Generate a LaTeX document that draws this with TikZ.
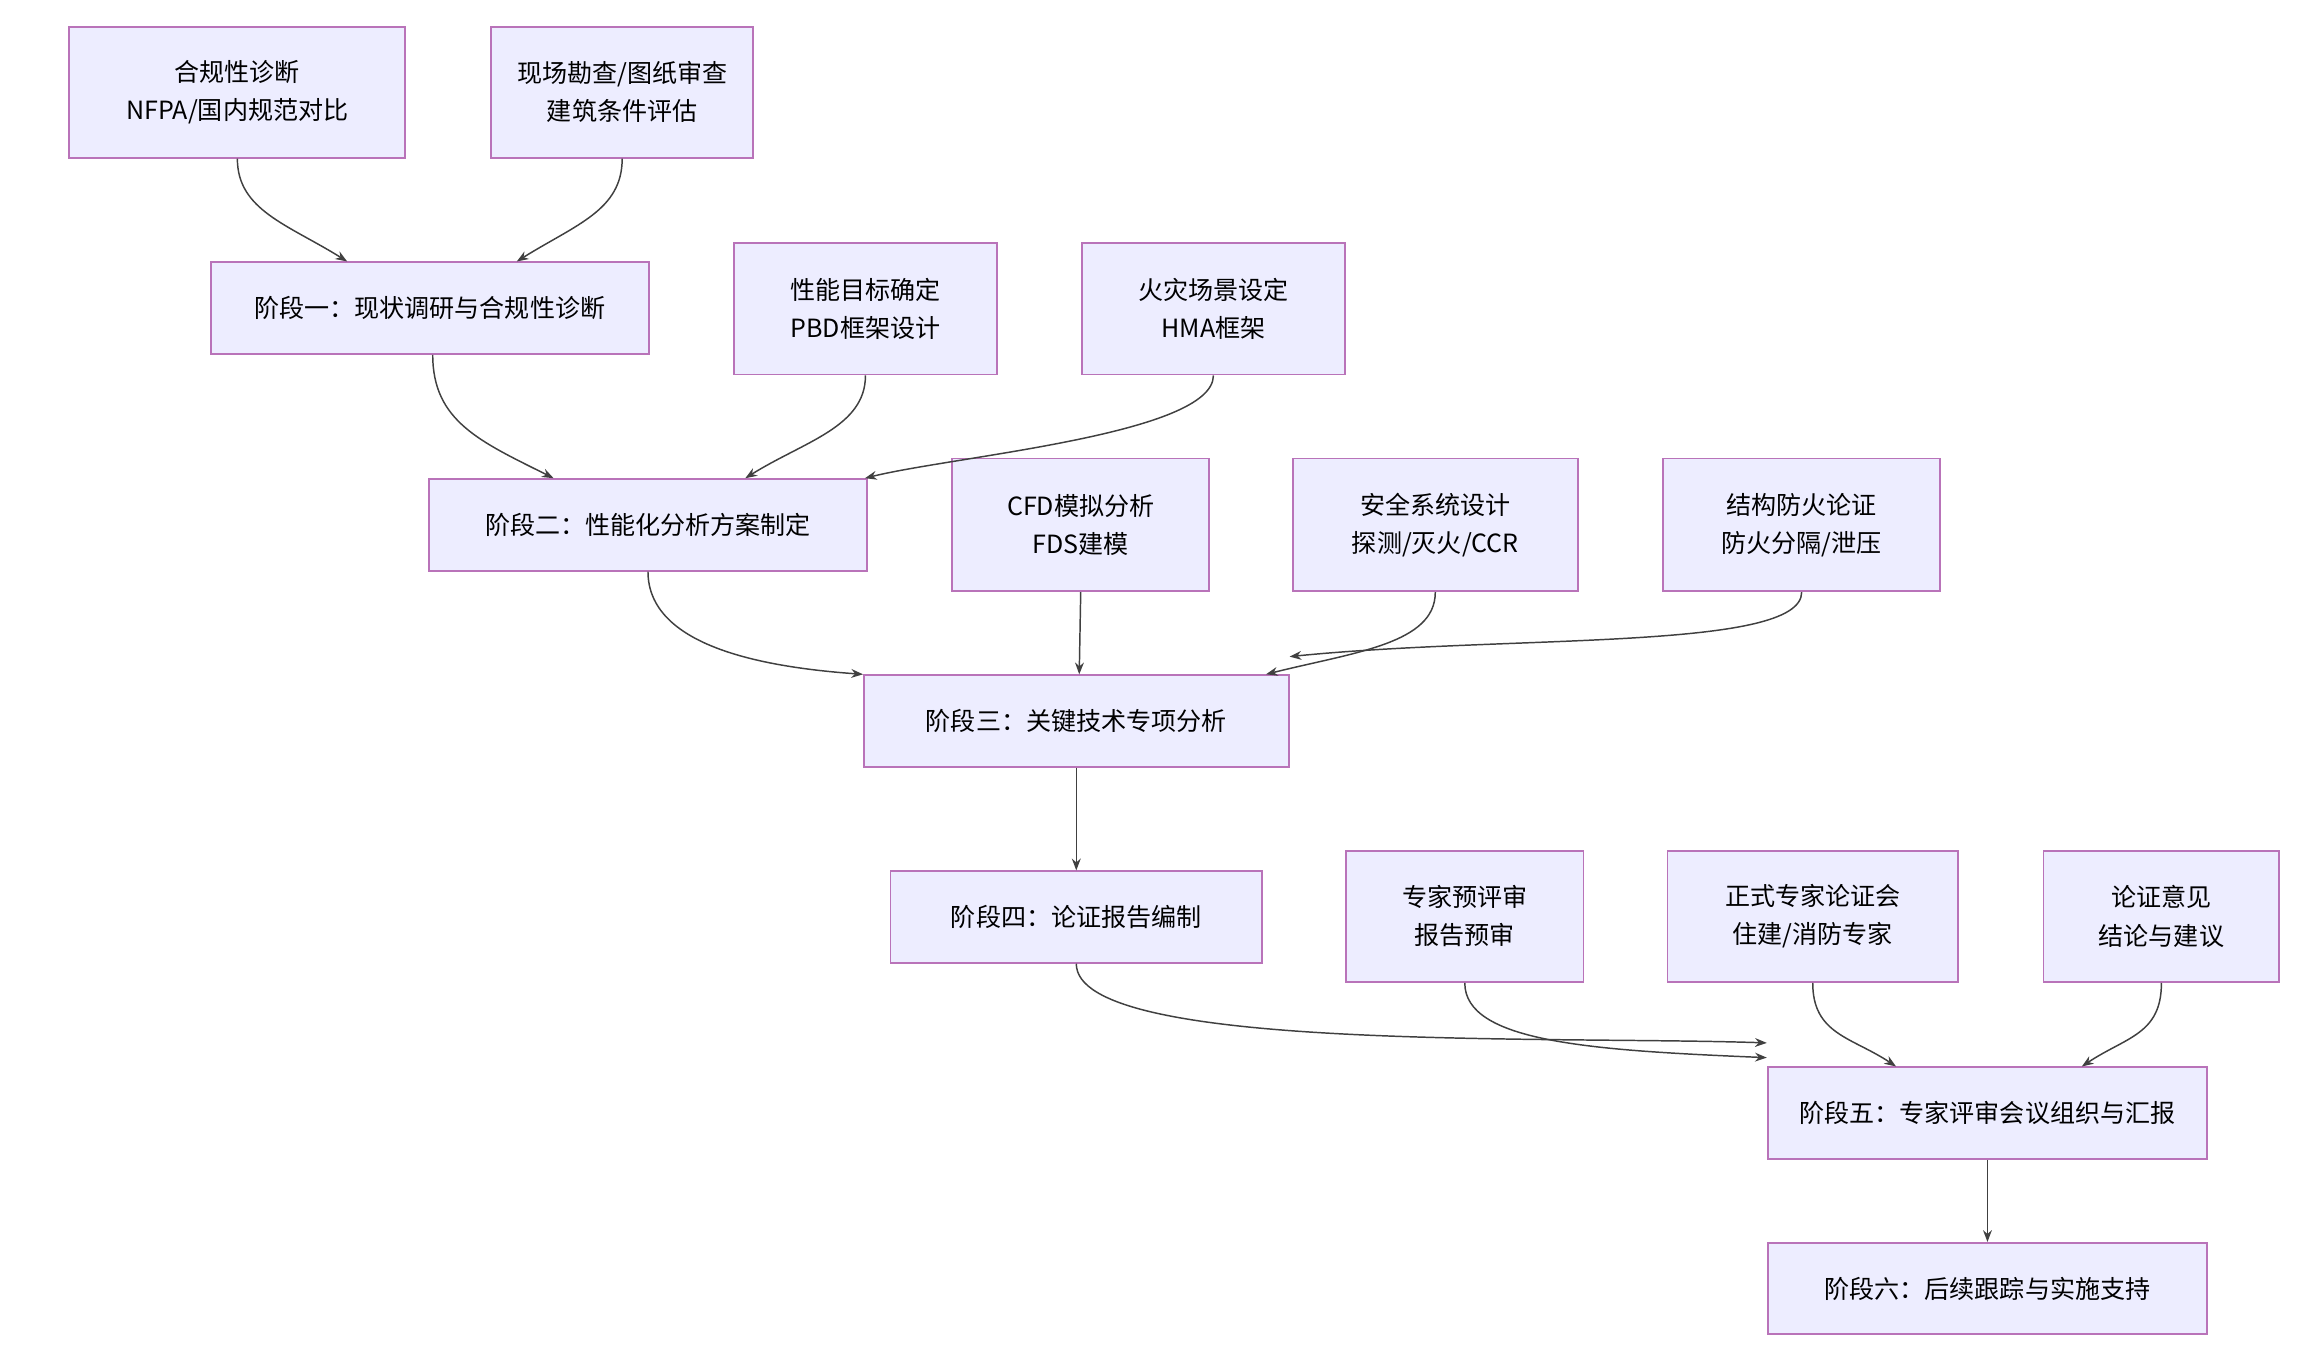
\documentclass[tikz,border=0pt]{standalone}
\usepackage{fontspec}
\setmainfont{Noto Sans CJK SC}
\usetikzlibrary{arrows.meta}
\begin{document}
\begin{tikzpicture}[x=1pt,y=-1pt,
 bx/.style={draw=violet!55,fill=blue!7,line width=1.3pt,inner sep=0pt,font=\fontsize{17}{26}\selectfont,align=center},
 ar/.style={draw=black!75,line width=1pt,-{Stealth[length=8pt,width=6pt]}}]
\useasboundingbox (0,0) rectangle (1560,927);
\newcommand\bb[6]{\node[bx,minimum width=#4-#2,minimum height=#5-#3] (#1) at ({(#2+#4)/2},{(#3+#5)/2}) {#6};}
\bb{A1}{47}{18}{275}{107}{合规性诊断\\NFPA/国内规范对比}
\bb{A2}{333}{18}{511}{107}{现场勘查/图纸审查\\建筑条件评估}
\bb{S1}{143}{178}{440}{240}{阶段一：现状调研与合规性诊断}
\bb{B1}{498}{165}{676}{254}{性能目标确定\\PBD框架设计}
\bb{B2}{734}{165}{912}{254}{火灾场景设定\\HMA框架}
\bb{S2}{291}{325}{588}{387}{阶段二：性能化分析方案制定}
\bb{C1}{646}{311}{820}{401}{CFD模拟分析\\FDS建模}
\bb{C2}{877}{311}{1070}{401}{安全系统设计\\探测/灭火/CCR}
\bb{C3}{1128}{311}{1316}{401}{结构防火论证\\防火分隔/泄压}
\bb{S3}{586}{458}{874}{520}{阶段三：关键技术专项分析}
\bb{S4}{604}{591}{856}{653}{阶段四：论证报告编制}
\bb{D1}{913}{577}{1074}{666}{专家预评审\\报告预审}
\bb{D2}{1131}{577}{1328}{666}{正式专家论证会\\住建/消防专家}
\bb{D3}{1386}{577}{1546}{666}{论证意见\\结论与建议}
\bb{S5}{1199}{724}{1497}{786}{阶段五：专家评审会议组织与汇报}
\bb{S6}{1199}{843}{1497}{905}{阶段六：后续跟踪与实施支持}
\draw[ar] (A1.south) .. controls +(0,35) and +(-40,-25) .. ([xshift=-56]S1.north);
\draw[ar] (A2.south) .. controls +(0,35) and +(40,-25) .. ([xshift=59]S1.north);
\draw[ar] ([xshift=2]S1.south) .. controls +(0,45) and +(-50,-25) .. ([xshift=-64]S2.north);
\draw[ar] (B1.south) .. controls +(0,35) and +(40,-25) .. ([xshift=66]S2.north);
\draw[ar] (B2.south) .. controls +(0,40) and +(60,-15) .. ([xshift=-2]S2.north east);
\draw[ar] (S2.south) .. controls +(0,50) and +(-70,-5) .. (S3.north west);
\draw[ar] (C1.south) -- ([xshift=2]S3.north);
\draw[ar] (C2.south) .. controls +(0,35) and +(60,-15) .. ([xshift=-16]S3.north east);
\draw[ar] (C3.south) .. controls +(0,40) and +(150,-15) .. ([yshift=12]S3.north east);
\draw[ar] (S3.south) -- (S3.south|-S4.north);
\draw[ar] (S4.south) .. controls +(0,60) and +(-150,-5) .. ([yshift=16]S5.north west);
\draw[ar] (D1.south) .. controls +(0,40) and +(-120,-5) .. ([yshift=6]S5.north west);
\draw[ar] (D2.south) .. controls +(0,35) and +(-30,-20) .. ([xshift=-62]S5.north);
\draw[ar] (D3.south) .. controls +(0,35) and +(30,-20) .. ([xshift=64]S5.north);
\draw[ar] (S5.south) -- (S6.north);
\end{tikzpicture}
\end{document}
